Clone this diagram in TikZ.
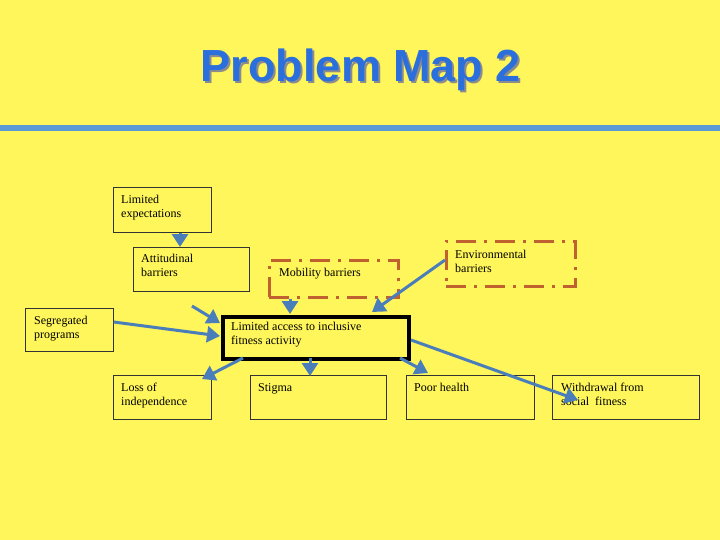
\documentclass[tikz,border=0pt]{standalone}
\usepackage{fontspec}
\setmainfont{Liberation Serif}
\newfontfamily\titlefont{Liberation Sans}
\usetikzlibrary{arrows.meta}
\definecolor{bg}{HTML}{FEF65B}
\definecolor{arr}{HTML}{4A7EBB}
\definecolor{ttl}{HTML}{2A6FDB}
\definecolor{rule}{HTML}{5B9BD5}
\definecolor{dash}{HTML}{C0622F}
\begin{document}
\begin{tikzpicture}[x=1pt,y=-1pt,
  box/.style={draw=black!80,line width=0.7pt,anchor=north west,inner sep=0pt},
  dbox/.style={draw=dash,line width=2.5pt,dash pattern=on 20pt off 8pt on 3pt off 8pt,anchor=north west,inner sep=0pt},
  lbl/.style={anchor=north west,align=left,inner sep=0pt,font=\fontsize{12}{14}\selectfont},
  ar/.style={draw=arr,line width=3pt,-{Triangle[length=13pt,width=16pt]}}]
\fill[bg] (0,0) rectangle (720,540);
\useasboundingbox (0,0) rectangle (720,540);
\node[font=\titlefont\bfseries\fontsize{45}{50}\selectfont,text=black!45] at (363,72) {Problem Map 2};
\node[font=\titlefont\bfseries\fontsize{45}{50}\selectfont,text=ttl] (title) at (361,70) {Problem Map 2};
\fill[rule] (0,125) rectangle (720,131);
\node[box,minimum width=98pt,minimum height=45pt] (exp) at (113,187) {};
\node[lbl] (expt) at (121,195) {Limited\\expectations};
\node[box,minimum width=116pt,minimum height=44pt] (att) at (133,247) {};
\node[lbl] (attt) at (141,254) {Attitudinal\\barriers};
\node[dbox,minimum width=129pt,minimum height=37pt] (mob) at (268,259) {};
\node[lbl] (mobt) at (279,268) {Mobility barriers};
\node[dbox,minimum width=129pt,minimum height=45pt] (env) at (445,240) {};
\node[lbl] (envt) at (455,250) {Environmental\\barriers};
\node[box,minimum width=88pt,minimum height=43pt] (seg) at (25,308) {};
\node[lbl] (segt) at (34,316) {Segregated\\programs};
\node[box,draw=black,line width=4pt,minimum width=186pt,minimum height=42pt] (cen) at (221,315) {};
\node[lbl] (cent) at (231,322) {Limited access to inclusive\\fitness activity};
\node[box,minimum width=98pt,minimum height=44pt] (loss) at (113,375) {};
\node[lbl] (losst) at (121,383) {Loss of\\independence};
\node[box,minimum width=136pt,minimum height=44pt] (stig) at (250,375) {};
\node[lbl] (stigt) at (258,383) {Stigma};
\node[box,minimum width=128pt,minimum height=44pt] (poor) at (406,375) {};
\node[lbl] (poort) at (414,383) {Poor health};
\node[box,minimum width=147pt,minimum height=44pt] (with) at (552,375) {};
\node[lbl] (witht) at (561,383) {Withdrawal from\\social~ fitness};
\coordinate (a1) at (192,306);
\coordinate (a2) at (220,323);
\draw[ar] (exp.south -| 180,0) -- (att.north -| 180,0);
\draw[ar] (a1) -- (a2);
\draw[ar] (seg.east |- 0,322) -- (220,336);
\draw[ar] (mob.south -| 290,0) -- (290,314);
\draw[ar] (env.west |- 0,260) -- (372,312);
\draw[ar] (243,358) -- (202,379);
\draw[ar] (310,358) -- (310,376);
\draw[ar] (400,358) -- (428,373);
\draw[ar] (cen.east |- 0,340) -- (578,400);
\end{tikzpicture}
\end{document}
